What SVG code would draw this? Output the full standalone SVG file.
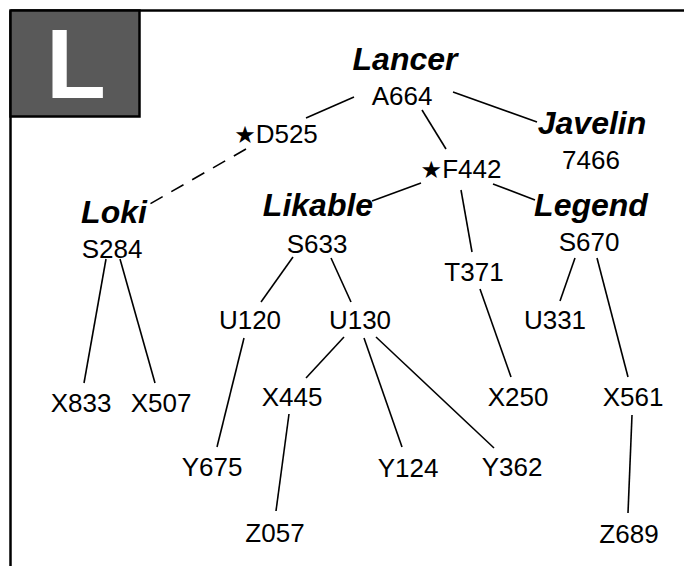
<svg xmlns="http://www.w3.org/2000/svg" width="684" height="566" viewBox="0 0 684 566">
<style>
  .t { font-family: "Liberation Sans", Arial, sans-serif; font-size: 26px; fill: #000; text-anchor: middle; }
  .n { font-family: "Liberation Sans", Arial, sans-serif; font-size: 32px; font-weight: bold; font-style: italic; fill: #000; text-anchor: middle; }
  .star { font-family: "DejaVu Sans", sans-serif; font-size: 24px; }
  .e { stroke: #000; stroke-width: 1.6; fill: none; }
  .d { stroke-dasharray: 14 10; }
</style>
<rect x="0" y="0" width="684" height="566" fill="#fff"/>
<g id="frame">
  <line x1="10.5" y1="10.5" x2="684" y2="10.5" stroke="#000" stroke-width="2.5"/>
  <line x1="10.5" y1="10.5" x2="10.5" y2="566" stroke="#000" stroke-width="2.5"/>
  <rect x="10.5" y="10.5" width="129" height="106" fill="#595959" stroke="#000" stroke-width="2.5"/>
  <text x="46" y="98" font-family="Liberation Sans, Arial, sans-serif" font-size="98" font-weight="bold" fill="#fff">L</text>
</g>
<g id="connectors">
  <line class="e" x1="354" y1="97" x2="306" y2="118"/>
  <line class="e d" x1="246" y1="149" x2="148" y2="205"/>
  <line class="e" x1="422" y1="110" x2="446" y2="149"/>
  <line class="e" x1="453" y1="92" x2="537" y2="122"/>
  <line class="e" x1="421" y1="183" x2="372" y2="201"/>
  <line class="e" x1="461" y1="190" x2="472" y2="252"/>
  <line class="e" x1="493" y1="184" x2="535" y2="200"/>
  <line class="e" x1="575" y1="258" x2="560" y2="301"/>
  <line class="e" x1="597" y1="258" x2="628" y2="377"/>
  <line class="e" x1="480" y1="289" x2="511" y2="377"/>
  <line class="e" x1="632" y1="415" x2="628" y2="513"/>
  <line class="e" x1="293" y1="257" x2="261" y2="302"/>
  <line class="e" x1="331" y1="258" x2="351" y2="302"/>
  <line class="e" x1="244" y1="338" x2="217" y2="447"/>
  <line class="e" x1="344" y1="337" x2="306" y2="378"/>
  <line class="e" x1="364" y1="338" x2="402" y2="447"/>
  <line class="e" x1="376" y1="337" x2="494" y2="448"/>
  <line class="e" x1="289" y1="414" x2="276" y2="511"/>
  <line class="e" x1="106" y1="259" x2="84" y2="383"/>
  <line class="e" x1="120" y1="259" x2="155" y2="383"/>
</g>
<g id="lancer"><text class="n" x="405" y="70">Lancer</text><text class="t" x="402" y="105">A664</text></g>
<g id="javelin"><text class="n" x="592" y="134">Javelin</text><text class="t" x="591" y="169">7466</text></g>
<g id="d525"><text class="t" x="276" y="143"><tspan class="star">★</tspan>D525</text></g>
<g id="f442"><text class="t" x="461" y="178"><tspan class="star">★</tspan>F442</text></g>
<g id="loki"><text class="n" x="114" y="223">Loki</text><text class="t" x="112" y="258">S284</text></g>
<g id="likable"><text class="n" x="318" y="216">Likable</text><text class="t" x="317" y="253">S633</text></g>
<g id="legend"><text class="n" x="591" y="216">Legend</text><text class="t" x="589" y="251">S670</text></g>
<g id="t371"><text class="t" x="474" y="281">T371</text></g>
<g id="u120"><text class="t" x="250" y="329">U120</text></g>
<g id="u130"><text class="t" x="360" y="329">U130</text></g>
<g id="u331"><text class="t" x="555" y="329">U331</text></g>
<g id="x833"><text class="t" x="81" y="412">X833</text></g>
<g id="x507"><text class="t" x="161" y="412">X507</text></g>
<g id="x445"><text class="t" x="292" y="406">X445</text></g>
<g id="x250"><text class="t" x="518" y="406">X250</text></g>
<g id="x561"><text class="t" x="633" y="406">X561</text></g>
<g id="y675"><text class="t" x="212" y="476">Y675</text></g>
<g id="y124"><text class="t" x="408" y="477">Y124</text></g>
<g id="y362"><text class="t" x="512" y="476">Y362</text></g>
<g id="z057"><text class="t" x="275" y="542">Z057</text></g>
<g id="z689"><text class="t" x="629" y="543">Z689</text></g>
</svg>
